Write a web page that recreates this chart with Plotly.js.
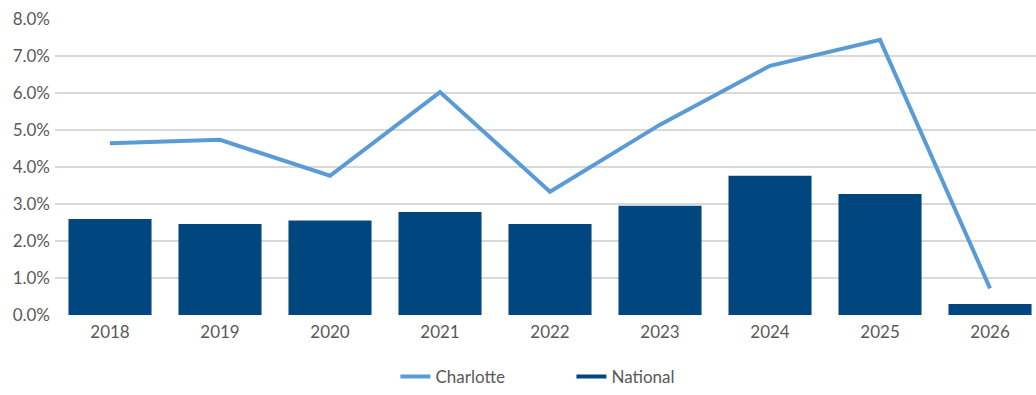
<!DOCTYPE html>
<html>
<head>
<meta charset="utf-8">
<script src="https://cdn.plot.ly/plotly-3.0.1.min.js"></script>
<style>html,body{margin:0;padding:0;background:#fff;}#chart{width:1036px;height:395px;}</style>
</head>
<body>
<div id="chart"></div>
<script>
const years = ["2018","2019","2020","2021","2022","2023","2024","2025","2026"];
const charlotte = [4.64, 4.73, 3.76, 6.02, 3.33, 5.14, 6.73, 7.43, 0.72];
const national = [2.59, 2.46, 2.55, 2.78, 2.46, 2.95, 3.76, 3.27, 0.30];
const yTicks = [0,1,2,3,4,5,6,7,8];
const yTickText = yTicks.map(v => v.toFixed(1) + "%");

const lineColor = "#5B9BD5";
const barColor = "#00467F";

const traces = [
  {
    type: "bar", x: years, y: national, name: "National",
    marker: {color: barColor}, showlegend: false
  },
  {
    type: "scatter", mode: "lines", x: years, y: charlotte, name: "Charlotte",
    line: {color: lineColor, width: 4}, showlegend: true
  },
  {
    type: "scatter", mode: "lines", x: [null], y: [null], name: "National",
    line: {color: barColor, width: 4}, showlegend: true
  }
];

const layout = {
  width: 1036, height: 395,
  margin: {l: 55, r: 0, t: 18, b: 80, autoexpand: false},
  paper_bgcolor: "#fff", plot_bgcolor: "#fff",
  font: {family: "Lato, 'Open Sans', sans-serif", size: 17, color: "#595959"},
  bargap: 0.245,
  showlegend: true,
  legend: {
    orientation: "h", x: 0.347, xanchor: "left",
    yref: "container", y: 0, yanchor: "bottom",
    entrywidth: 131, entrywidthmode: "pixels",
    font: {size: 17, color: "#595959"}, traceorder: "normal"
  },
  xaxis: {
    type: "category", range: [-0.5, 8.418], showgrid: false, zeroline: false,
    showline: false, ticks: "", ticklabelstandoff: 5,
    tickfont: {size: 17, color: "#595959"}, fixedrange: true
  },
  yaxis: {
    range: [0, 8.02], tickvals: yTicks, ticktext: yTickText, showgrid: true,
    gridcolor: "#d9d9d9", gridwidth: 1.5, zeroline: false, showline: false,
    ticks: "", ticklabelstandoff: 4,
    tickfont: {size: 17, color: "#595959"}, fixedrange: true
  }
};

Plotly.newPlot("chart", traces, layout, {displayModeBar: false, staticPlot: true});
</script>
</body>
</html>
